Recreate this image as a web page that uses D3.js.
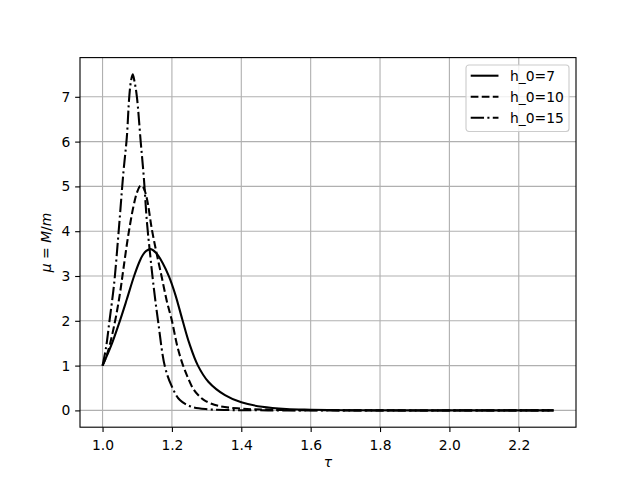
<!DOCTYPE html>
<html>
<head>
<meta charset="utf-8">
<script src="https://cdn.jsdelivr.net/npm/d3@7"></script>
<style>
  html, body { margin: 0; padding: 0; background: #fff; }
  svg { display: block; font-family: "DejaVu Sans", sans-serif; }
</style>
</head>
<body>
<svg id="chart" width="640" height="480"></svg>
<script>
'use strict';

// values
var seriesNames = ["h_0=7", "h_0=10", "h_0=15"];

var tau7 = [1.0, 1.025, 1.05, 1.07, 1.091, 1.107, 1.117, 1.126, 1.139, 1.155, 1.174, 1.192, 1.21, 1.23, 1.25, 1.275, 1.305, 1.353, 1.4, 1.46, 1.53, 1.6, 1.7, 1.9, 2.3];
var mu7  = [1.0, 1.45, 2.0, 2.48, 3.0, 3.33, 3.48, 3.56, 3.6, 3.51, 3.28, 2.98, 2.58, 2.03, 1.5, 1.0, 0.64, 0.34, 0.18, 0.08, 0.03, 0.015, 0.005, 0.001, 0.0];

var tau10 = [1.0, 1.015, 1.035, 1.05, 1.06, 1.074, 1.089, 1.1, 1.11, 1.118, 1.128, 1.142, 1.156, 1.17, 1.185, 1.2, 1.215, 1.23, 1.245, 1.26, 1.275, 1.295, 1.334, 1.4, 1.48, 1.6, 1.8, 2.3];
var mu10  = [1.0, 1.3, 1.95, 2.6, 3.15, 3.9, 4.55, 4.88, 5.02, 4.97, 4.72, 4.05, 3.5, 3.0, 2.45, 2.0, 1.45, 1.05, 0.75, 0.5, 0.35, 0.22, 0.1, 0.04, 0.015, 0.004, 0.0, 0.0];

var tau15 = [1.0, 1.01, 1.02, 1.033, 1.046, 1.06, 1.07, 1.077, 1.082, 1.087, 1.092, 1.099, 1.11, 1.119, 1.128, 1.137, 1.146, 1.16, 1.18, 1.2, 1.223, 1.257, 1.305, 1.35, 1.45, 1.6, 2.3];
var mu15  = [1.0, 1.4, 2.0, 2.8, 3.95, 5.3, 6.1, 7.0, 7.35, 7.5, 7.35, 7.0, 6.0, 5.2, 4.2, 3.5, 2.85, 2.0, 0.97, 0.53, 0.23, 0.08, 0.024, 0.01, 0.002, 0.0, 0.0];

var xTicks = [1.0, 1.2, 1.4, 1.6, 1.8, 2.0, 2.2];
var yTicks = [0, 1, 2, 3, 4, 5, 6, 7];

var PT = 100 / 72;
var FONT = 10 * PT;

var svg = d3.select("#chart");
var margin = { left: 80, right: 64, top: 57.6, bottom: 52.8 };
var width = 640 - margin.left - margin.right;
var height = 480 - margin.top - margin.bottom;

var g = svg.append("g")
  .attr("transform", "translate(" + margin.left + "," + margin.top + ")");

var x = d3.scaleLinear().domain([0.935, 2.365]).range([0, width]);
var y = d3.scaleLinear().domain([-0.375, 7.875]).range([height, 0]);

// grid
g.append("g").selectAll("line").data(xTicks).join("line")
  .attr("x1", function(d) { return x(d); }).attr("x2", function(d) { return x(d); })
  .attr("y1", 0).attr("y2", height)
  .attr("stroke", "#b0b0b0").attr("stroke-width", 0.8 * PT);
g.append("g").selectAll("line").data(yTicks).join("line")
  .attr("y1", function(d) { return y(d); }).attr("y2", function(d) { return y(d); })
  .attr("x1", 0).attr("x2", width)
  .attr("stroke", "#b0b0b0").attr("stroke-width", 0.8 * PT);

// curves
var series = [
  { name: seriesNames[0], tau: tau7, mu: mu7, dash: null },
  { name: seriesNames[1], tau: tau10, mu: mu10, dash: [5.55 * PT, 2.4 * PT] },
  { name: seriesNames[2], tau: tau15, mu: mu15, dash: [9.6 * PT, 2.4 * PT, 1.5 * PT, 2.4 * PT] }
];

var line = d3.line()
  .x(function(d) { return x(d[0]); })
  .y(function(d) { return y(Math.max(0, d[1])); })
  .curve(d3.curveCatmullRom.alpha(0.5));

function zip(a, b) {
  return a.map(function(v, i) { return [v, b[i]]; });
}

series.forEach(function(s) {
  g.append("path")
    .datum(zip(s.tau, s.mu))
    .attr("d", line)
    .attr("fill", "none")
    .attr("stroke", "#000")
    .attr("stroke-width", 1.5 * PT)
    .attr("stroke-linejoin", "round")
    .attr("stroke-dasharray", s.dash ? s.dash.join(",") : null);
});

// axes
var xAxis = d3.axisBottom(x).tickValues(xTicks).tickFormat(d3.format(".1f"))
  .tickSize(3.5 * PT).tickPadding(3.5 * PT);
var yAxis = d3.axisLeft(y).tickValues(yTicks).tickFormat(d3.format("d"))
  .tickSize(3.5 * PT).tickPadding(3.5 * PT);

var gx = g.append("g").attr("transform", "translate(0," + height + ")").call(xAxis);
var gy = g.append("g").call(yAxis);

[gx, gy].forEach(function(ax) {
  ax.select(".domain").remove();
  ax.selectAll(".tick line").attr("stroke", "#000").attr("stroke-width", 0.8 * PT);
  ax.selectAll(".tick text")
    .attr("fill", "#000")
    .style("font-family", "DejaVu Sans")
    .style("font-size", FONT + "px");
});
gx.selectAll(".tick text").attr("dy", "0.95em");

// frame
g.append("rect")
  .attr("width", width).attr("height", height)
  .attr("fill", "none").attr("stroke", "#000").attr("stroke-width", 0.8 * PT);

// labels
svg.append("text")
  .attr("x", margin.left + width / 2).attr("y", 467)
  .attr("text-anchor", "middle")
  .style("font-size", FONT + "px")
  .style("font-style", "italic")
  .text("τ");

var yl = svg.append("text")
  .attr("transform", "translate(50.5," + (margin.top + height / 2) + ") rotate(-90)")
  .attr("text-anchor", "middle")
  .style("font-size", FONT + "px");
yl.append("tspan").style("font-style", "italic").text("μ");
yl.append("tspan").text(" = ");
yl.append("tspan").style("font-style", "italic").text("M");
yl.append("tspan").text("/");
yl.append("tspan").style("font-style", "italic").text("m");

// legend
var legend = svg.append("g").attr("transform", "translate(466,65)");
legend.append("rect")
  .attr("width", 103).attr("height", 66.5)
  .attr("rx", 3).attr("ry", 3)
  .attr("fill", "#fff").attr("fill-opacity", 0.8)
  .attr("stroke", "#cccccc").attr("stroke-width", 0.8 * PT);

series.forEach(function(s, i) {
  var ly = 10.7 + i * 21;
  legend.append("line")
    .attr("x1", 4.7).attr("x2", 4.7 + 2 * FONT)
    .attr("y1", ly).attr("y2", ly)
    .attr("stroke", "#000").attr("stroke-width", 1.5 * PT)
    .attr("stroke-dasharray", s.dash ? s.dash.join(",") : null);
  legend.append("text")
    .attr("x", 44).attr("y", ly + 5)
    .style("font-size", FONT + "px")
    .text(s.name);
});
</script>
</body>
</html>
